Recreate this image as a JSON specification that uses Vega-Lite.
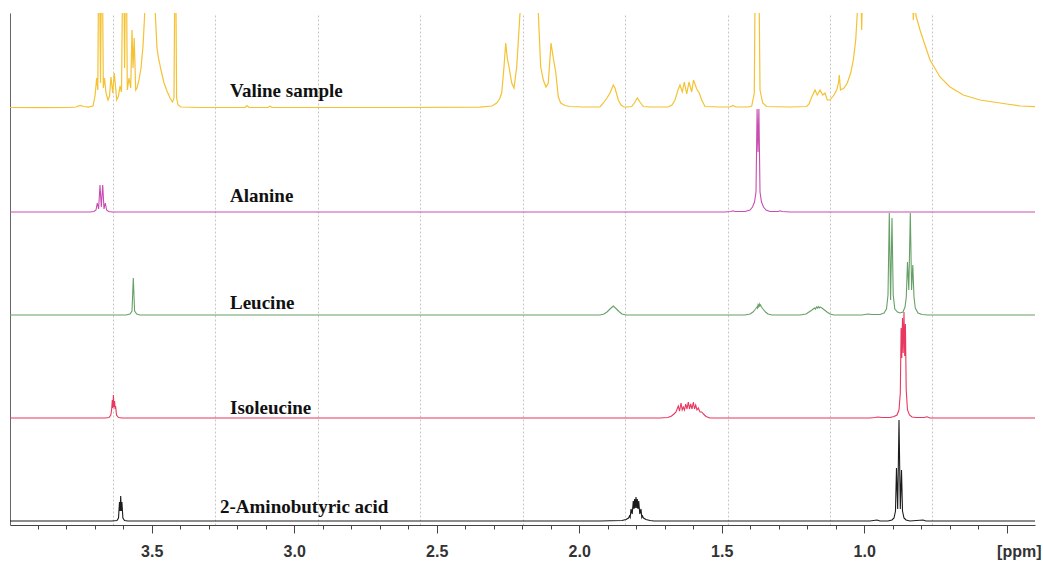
{
  "$schema": "https://vega.github.io/schema/vega-lite/v6.json",
  "width": 1025,
  "height": 512,
  "autosize": {"type": "none"},
  "padding": {"left": 10, "top": 13, "right": 8, "bottom": 37},
  "background": "white",
  "config": {"view": {"stroke": null}},
  "datasets": {
    "amino": [
      {"ppm":3.9972,"i":0},{"ppm":3.6393,"i":0},{"ppm":3.6218,"i":0.5},{"ppm":3.6165,"i":3},{"ppm":3.6130,"i":19},{"ppm":3.6109,"i":10},{"ppm":3.6088,"i":25},{"ppm":3.6067,"i":10},{"ppm":3.6046,"i":19},{"ppm":3.6011,"i":3},{"ppm":3.5954,"i":0.5},{"ppm":3.5832,"i":0},
      {"ppm":1.9270,"i":0},{"ppm":1.8498,"i":0.5},{"ppm":1.8358,"i":1.5},{"ppm":1.8270,"i":3},{"ppm":1.8235,"i":5},{"ppm":1.8211,"i":3.5},{"ppm":1.8182,"i":12},{"ppm":1.8140,"i":7},{"ppm":1.8102,"i":20},{"ppm":1.8077,"i":12},{"ppm":1.8056,"i":22},{"ppm":1.8032,"i":13},{"ppm":1.8007,"i":24},{"ppm":1.7982,"i":13},{"ppm":1.7961,"i":22},{"ppm":1.7937,"i":12},{"ppm":1.7912,"i":20},{"ppm":1.7874,"i":7},{"ppm":1.7832,"i":12},{"ppm":1.7804,"i":3.5},{"ppm":1.7779,"i":5},{"ppm":1.7744,"i":3},{"ppm":1.7656,"i":1.5},{"ppm":1.7516,"i":0.5},{"ppm":1.7375,"i":0},
      {"ppm":0.9796,"i":0},{"ppm":0.9551,"i":1},{"ppm":0.9446,"i":0},{"ppm":0.9165,"i":0},{"ppm":0.9025,"i":1},{"ppm":0.8954,"i":3},{"ppm":0.8902,"i":10},{"ppm":0.8867,"i":53},{"ppm":0.8825,"i":12},{"ppm":0.8779,"i":101},{"ppm":0.8733,"i":12},{"ppm":0.8691,"i":51},{"ppm":0.8656,"i":10},{"ppm":0.8604,"i":3},{"ppm":0.8533,"i":1},{"ppm":0.8393,"i":0},{"ppm":0.7937,"i":1},{"ppm":0.7832,"i":0},{"ppm":0.4007,"i":0}
    ],
    "iso": [
      {"ppm":3.9972,"i":0},{"ppm":3.6639,"i":0},{"ppm":3.6498,"i":0.5},{"ppm":3.6435,"i":3},{"ppm":3.6407,"i":8},{"ppm":3.6382,"i":18},{"ppm":3.6361,"i":10},{"ppm":3.6344,"i":23},{"ppm":3.6323,"i":11},{"ppm":3.6302,"i":17},{"ppm":3.6284,"i":9},{"ppm":3.6267,"i":12},{"ppm":3.6235,"i":3},{"ppm":3.6165,"i":0.5},{"ppm":3.6042,"i":0},
      {"ppm":1.7165,"i":0},{"ppm":1.6884,"i":0.5},{"ppm":1.6761,"i":2},{"ppm":1.6674,"i":4},{"ppm":1.6604,"i":6},{"ppm":1.6523,"i":12},{"ppm":1.6477,"i":7},{"ppm":1.6428,"i":15},{"ppm":1.6386,"i":8},{"ppm":1.6347,"i":11},{"ppm":1.6305,"i":8},{"ppm":1.6263,"i":14},{"ppm":1.6218,"i":9},{"ppm":1.6172,"i":16},{"ppm":1.6130,"i":9},{"ppm":1.6088,"i":14},{"ppm":1.6042,"i":9},{"ppm":1.5996,"i":16},{"ppm":1.5954,"i":9},{"ppm":1.5912,"i":13},{"ppm":1.5867,"i":8},{"ppm":1.5821,"i":10},{"ppm":1.5761,"i":6},{"ppm":1.5702,"i":6},{"ppm":1.5639,"i":4},{"ppm":1.5551,"i":1.5},{"ppm":1.5411,"i":0},
      {"ppm":0.9796,"i":0},{"ppm":0.9621,"i":0.5},{"ppm":0.9516,"i":1},{"ppm":0.9375,"i":0.5},{"ppm":0.9095,"i":0.5},{"ppm":0.8954,"i":1.5},{"ppm":0.8849,"i":3},{"ppm":0.8779,"i":8},{"ppm":0.8733,"i":25},{"ppm":0.8705,"i":90},{"ppm":0.8681,"i":60},{"ppm":0.8656,"i":100},{"ppm":0.8632,"i":65},{"ppm":0.8604,"i":106},{"ppm":0.8579,"i":62},{"ppm":0.8554,"i":94},{"ppm":0.8526,"i":28},{"ppm":0.8481,"i":8},{"ppm":0.8411,"i":3},{"ppm":0.8323,"i":1},{"ppm":0.8182,"i":0.5},{"ppm":0.7902,"i":0.5},{"ppm":0.7796,"i":1.2},{"ppm":0.7691,"i":0},{"ppm":0.4007,"i":0}
    ],
    "leu": [
      {"ppm":3.9972,"i":0},{"ppm":3.5902,"i":0},{"ppm":3.5761,"i":1},{"ppm":3.5691,"i":4},{"ppm":3.5646,"i":37},{"ppm":3.5600,"i":4},{"ppm":3.5526,"i":1},{"ppm":3.5411,"i":0},
      {"ppm":1.9270,"i":0},{"ppm":1.9130,"i":1},{"ppm":1.9025,"i":3},{"ppm":1.8919,"i":6},{"ppm":1.8804,"i":9},{"ppm":1.8691,"i":6},{"ppm":1.8586,"i":3},{"ppm":1.8498,"i":1},{"ppm":1.8358,"i":0},
      {"ppm":1.4182,"i":0},{"ppm":1.4007,"i":1},{"ppm":1.3902,"i":3},{"ppm":1.3814,"i":6},{"ppm":1.3761,"i":8},{"ppm":1.3743,"i":7},{"ppm":1.3726,"i":10},{"ppm":1.3703,"i":8.5},{"ppm":1.3681,"i":11},{"ppm":1.3660,"i":9},{"ppm":1.3639,"i":10},{"ppm":1.3604,"i":8},{"ppm":1.3551,"i":6},{"ppm":1.3463,"i":3},{"ppm":1.3375,"i":1},{"ppm":1.3235,"i":0},
      {"ppm":1.2253,"i":0},{"ppm":1.2042,"i":1},{"ppm":1.1937,"i":3},{"ppm":1.1832,"i":5},{"ppm":1.1744,"i":7},{"ppm":1.1709,"i":6},{"ppm":1.1674,"i":8},{"ppm":1.1642,"i":7},{"ppm":1.1611,"i":8.5},{"ppm":1.1581,"i":7},{"ppm":1.1551,"i":8},{"ppm":1.1481,"i":7},{"ppm":1.1393,"i":5},{"ppm":1.1305,"i":3},{"ppm":1.1200,"i":1},{"ppm":1.1060,"i":0},
      {"ppm":1.0077,"i":0},{"ppm":0.9867,"i":1},{"ppm":0.9726,"i":0.5},{"ppm":0.9446,"i":0.5},{"ppm":0.9305,"i":2},{"ppm":0.9218,"i":6},{"ppm":0.9165,"i":20},{"ppm":0.9119,"i":102},{"ppm":0.9074,"i":15},{"ppm":0.9025,"i":97},{"ppm":0.8982,"i":20},{"ppm":0.8926,"i":6},{"ppm":0.8832,"i":3},{"ppm":0.8744,"i":2},{"ppm":0.8639,"i":3},{"ppm":0.8568,"i":8},{"ppm":0.8523,"i":18},{"ppm":0.8481,"i":53},{"ppm":0.8435,"i":25},{"ppm":0.8382,"i":102},{"ppm":0.8337,"i":25},{"ppm":0.8295,"i":50},{"ppm":0.8253,"i":18},{"ppm":0.8207,"i":7},{"ppm":0.8112,"i":2},{"ppm":0.7972,"i":0.5},{"ppm":0.7761,"i":0},{"ppm":0.4007,"i":0}
    ],
    "ala": [
      {"ppm":3.9972,"i":0},{"ppm":3.7165,"i":0},{"ppm":3.7025,"i":0.5},{"ppm":3.6954,"i":2},{"ppm":3.6909,"i":9},{"ppm":3.6863,"i":3},{"ppm":3.6814,"i":27},{"ppm":3.6768,"i":5},{"ppm":3.6719,"i":27},{"ppm":3.6674,"i":3},{"ppm":3.6628,"i":9},{"ppm":3.6582,"i":2},{"ppm":3.6516,"i":0.5},{"ppm":3.6393,"i":0},
      {"ppm":1.4884,"i":0},{"ppm":1.4674,"i":0.5},{"ppm":1.4604,"i":1.2},{"ppm":1.4533,"i":0.5},{"ppm":1.4182,"i":0.5},{"ppm":1.4007,"i":2},{"ppm":1.3919,"i":5},{"ppm":1.3849,"i":10},{"ppm":1.3796,"i":20},{"ppm":1.3758,"i":103},{"ppm":1.3726,"i":60},{"ppm":1.3695,"i":103},{"ppm":1.3656,"i":20},{"ppm":1.3604,"i":10},{"ppm":1.3533,"i":5},{"ppm":1.3446,"i":2},{"ppm":1.3305,"i":0.5},{"ppm":1.3025,"i":0.5},{"ppm":1.2954,"i":1.2},{"ppm":1.2884,"i":0.5},{"ppm":1.2604,"i":0},{"ppm":0.4007,"i":0}
    ],
    "val": [
      {"ppm":3.9972,"i":0.5},{"ppm":3.8919,"i":0.3},{"ppm":3.7867,"i":0.5},{"ppm":3.7656,"i":1},{"ppm":3.7516,"i":2.5},{"ppm":3.7375,"i":1.5},{"ppm":3.7235,"i":0.8},{"ppm":3.7060,"i":2},{"ppm":3.6989,"i":12},{"ppm":3.6930,"i":30},{"ppm":3.6891,"i":18},{"ppm":3.6849,"i":200},{"ppm":3.6796,"i":25},{"ppm":3.6744,"i":200},{"ppm":3.6698,"i":20},{"ppm":3.6656,"i":30},{"ppm":3.6604,"i":15},{"ppm":3.6533,"i":8},{"ppm":3.6481,"i":12},{"ppm":3.6428,"i":31},{"ppm":3.6368,"i":15},{"ppm":3.6312,"i":35},{"ppm":3.6228,"i":8},{"ppm":3.6165,"i":12},{"ppm":3.6112,"i":22},{"ppm":3.6060,"i":16},{"ppm":3.5996,"i":200},{"ppm":3.5951,"i":40},{"ppm":3.5902,"i":200},{"ppm":3.5856,"i":18},{"ppm":3.5796,"i":30},{"ppm":3.5737,"i":20},{"ppm":3.5691,"i":78},{"ppm":3.5656,"i":40},{"ppm":3.5614,"i":70},{"ppm":3.5561,"i":18},{"ppm":3.5516,"i":20},{"ppm":3.5446,"i":28},{"ppm":3.5375,"i":40},{"ppm":3.5305,"i":62},{"ppm":3.5253,"i":90},{"ppm":3.5200,"i":140},{"ppm":3.5060,"i":400},{"ppm":3.4919,"i":140},{"ppm":3.4867,"i":90},{"ppm":3.4814,"i":60},{"ppm":3.4761,"i":50},{"ppm":3.4674,"i":38},{"ppm":3.4568,"i":25},{"ppm":3.4463,"i":17},{"ppm":3.4358,"i":10},{"ppm":3.4270,"i":6},{"ppm":3.4218,"i":10},{"ppm":3.4172,"i":200},{"ppm":3.4126,"i":10},{"ppm":3.4077,"i":3},{"ppm":3.3972,"i":1},{"ppm":3.3305,"i":0.5},{"ppm":3.1726,"i":0.5},{"ppm":3.1656,"i":2.5},{"ppm":3.1586,"i":0.5},{"ppm":3.0919,"i":0.5},{"ppm":3.0849,"i":1.8},{"ppm":3.0779,"i":0.5},{"ppm":2.9796,"i":0.5},{"ppm":2.6288,"i":0.5},{"ppm":2.3481,"i":0.8},{"ppm":2.3060,"i":2},{"ppm":2.2895,"i":5},{"ppm":2.2796,"i":9},{"ppm":2.2719,"i":15},{"ppm":2.2639,"i":41},{"ppm":2.2579,"i":65},{"ppm":2.2523,"i":50},{"ppm":2.2463,"i":41},{"ppm":2.2368,"i":25},{"ppm":2.2288,"i":20},{"ppm":2.2193,"i":41},{"ppm":2.2130,"i":70},{"ppm":2.2077,"i":95},{"ppm":2.2007,"i":140},{"ppm":2.1761,"i":400},{"ppm":2.1516,"i":140},{"ppm":2.1435,"i":95},{"ppm":2.1351,"i":41},{"ppm":2.1260,"i":28},{"ppm":2.1165,"i":21},{"ppm":2.1084,"i":25},{"ppm":2.0989,"i":65},{"ppm":2.0909,"i":50},{"ppm":2.0825,"i":36},{"ppm":2.0733,"i":11},{"ppm":2.0649,"i":5},{"ppm":2.0498,"i":2.5},{"ppm":2.0323,"i":1.5},{"ppm":1.9867,"i":1},{"ppm":1.9270,"i":1},{"ppm":1.9154,"i":5},{"ppm":1.9025,"i":10},{"ppm":1.8919,"i":15},{"ppm":1.8804,"i":23},{"ppm":1.8744,"i":20},{"ppm":1.8628,"i":8},{"ppm":1.8533,"i":3},{"ppm":1.8428,"i":1},{"ppm":1.8288,"i":1},{"ppm":1.8158,"i":1.5},{"ppm":1.8042,"i":6},{"ppm":1.7961,"i":10},{"ppm":1.7867,"i":6},{"ppm":1.7751,"i":1.5},{"ppm":1.7516,"i":1},{"ppm":1.6884,"i":1},{"ppm":1.6744,"i":3},{"ppm":1.6639,"i":8},{"ppm":1.6533,"i":18},{"ppm":1.6463,"i":23},{"ppm":1.6382,"i":16},{"ppm":1.6312,"i":26},{"ppm":1.6228,"i":14},{"ppm":1.6147,"i":26},{"ppm":1.6053,"i":16},{"ppm":1.5989,"i":28},{"ppm":1.5877,"i":19},{"ppm":1.5786,"i":15},{"ppm":1.5702,"i":8},{"ppm":1.5586,"i":1.5},{"ppm":1.5060,"i":1},{"ppm":1.4709,"i":1},{"ppm":1.4604,"i":2.5},{"ppm":1.4498,"i":1},{"ppm":1.4077,"i":1},{"ppm":1.3947,"i":2},{"ppm":1.3856,"i":15},{"ppm":1.3807,"i":200},{"ppm":1.3761,"i":130},{"ppm":1.3716,"i":200},{"ppm":1.3656,"i":18},{"ppm":1.3561,"i":5},{"ppm":1.3421,"i":1.5},{"ppm":1.2604,"i":1},{"ppm":1.2018,"i":1.5},{"ppm":1.1937,"i":4},{"ppm":1.1842,"i":11},{"ppm":1.1726,"i":18},{"ppm":1.1646,"i":13},{"ppm":1.1551,"i":18},{"ppm":1.1456,"i":13},{"ppm":1.1375,"i":15},{"ppm":1.1295,"i":8},{"ppm":1.1200,"i":8},{"ppm":1.1060,"i":13},{"ppm":1.0965,"i":18},{"ppm":1.0902,"i":25},{"ppm":1.0874,"i":33},{"ppm":1.0832,"i":18},{"ppm":1.0709,"i":20},{"ppm":1.0593,"i":25},{"ppm":1.0474,"i":35},{"ppm":1.0382,"i":48},{"ppm":1.0298,"i":68},{"ppm":1.0242,"i":95},{"ppm":1.0182,"i":200},{"ppm":1.0088,"i":78},{"ppm":1.0007,"i":200},{"ppm":0.9446,"i":500},{"ppm":0.8744,"i":500},{"ppm":0.8358,"i":200},{"ppm":0.8277,"i":88},{"ppm":0.8235,"i":110},{"ppm":0.8182,"i":92},{"ppm":0.8042,"i":78},{"ppm":0.7926,"i":68},{"ppm":0.7691,"i":48},{"ppm":0.7340,"i":31},{"ppm":0.6989,"i":21},{"ppm":0.6523,"i":13},{"ppm":0.5937,"i":8},{"ppm":0.5000,"i":4},{"ppm":0.4533,"i":2},{"ppm":0.4007,"i":1.3}
    ]
  },
  "layer": [
    {
      "data": {"name": "amino"},
      "mark": {"type": "line", "color": "#1c1c1c", "strokeWidth": 1.1, "clip": true},
      "encoding": {
        "x": {"field": "ppm", "type": "quantitative",
          "scale": {"domain": [0.4007, 3.9972], "reverse": true, "nice": false, "zero": false},
          "axis": {"orient": "bottom", "values": [3.5, 3.0, 2.5, 2.0, 1.5, 1.0, 0.5], "format": ".1f",
            "labelExpr": "datum.value < 0.7 ? '' : datum.label",
            "tickSize": 8, "tickColor": "#444", "domain": true, "domainColor": "#444", "domainWidth": 1,
            "grid": false, "labelFont": "Liberation Sans", "labelFontWeight": "bold", "labelFontSize": 16,
            "labelColor": "#333", "labelPadding": 10, "labelFlush": false, "labelOverlap": false,
            "title": "[ppm]", "titleFont": "Liberation Sans", "titleFontWeight": "bold", "titleFontSize": 16,
            "titleColor": "#333", "titleX": 1031, "titleY": 18, "titleAlign": "right", "titleBaseline": "top"}},
        "y": {"field": "i", "type": "quantitative",
          "scale": {"domain": [-4, 508], "nice": false, "zero": false},
          "axis": {"orient": "left", "domain": true, "domainColor": "#666", "ticks": false, "labels": false, "grid": false, "title": null}}
      }
    },
    {
      "data": {"name": "iso"},
      "mark": {"type": "line", "color": "#E8385F", "strokeWidth": 1.1, "clip": true},
      "encoding": {
        "x": {"field": "ppm", "type": "quantitative",
          "axis": {"orient": "bottom", "values": [3.9, 3.8, 3.7, 3.6, 3.4, 3.3, 3.2, 3.1, 2.9, 2.8, 2.7, 2.6, 2.4, 2.3, 2.2, 2.1, 1.9, 1.8, 1.7, 1.6, 1.4, 1.3, 1.2, 1.1, 0.9, 0.8, 0.7, 0.6],
            "tickSize": 4, "tickColor": "#444", "domain": false, "labels": false, "grid": false, "title": null}},
        "y": {"field": "i", "type": "quantitative", "scale": {"domain": [-107, 405], "nice": false, "zero": false}, "axis": null}
      }
    },
    {
      "data": {"name": "leu"},
      "mark": {"type": "line", "color": "#67A067", "strokeWidth": 1.1, "clip": true},
      "encoding": {
        "x": {"field": "ppm", "type": "quantitative",
          "axis": {"orient": "top", "values": [3.6375, 3.2779, 2.9182, 2.5586, 2.1989, 1.8393, 1.4796, 1.12, 0.7604],
            "grid": true, "gridColor": "#c6c6c6", "gridDash": [2, 2], "gridWidth": 1,
            "domain": false, "ticks": false, "labels": false, "title": null}},
        "y": {"field": "i", "type": "quantitative", "scale": {"domain": [-210, 302], "nice": false, "zero": false}, "axis": null}
      }
    },
    {
      "data": {"name": "ala"},
      "mark": {"type": "line", "color": "#C94DB0", "strokeWidth": 1.1, "clip": true},
      "encoding": {
        "x": {"field": "ppm", "type": "quantitative", "axis": null},
        "y": {"field": "i", "type": "quantitative", "scale": {"domain": [-313, 199], "nice": false, "zero": false}, "axis": null}
      }
    },
    {
      "data": {"name": "val"},
      "mark": {"type": "line", "color": "#F4C232", "strokeWidth": 1.2, "clip": true},
      "encoding": {
        "x": {"field": "ppm", "type": "quantitative", "axis": null},
        "y": {"field": "i", "type": "quantitative", "scale": {"domain": [-417, 95], "nice": false, "zero": false}, "axis": null}
      }
    },
    {
      "data": {"values": [{"name": "2-Aminobutyric acid", "ppm": 3.2604, "i": 8}]},
      "mark": {"type": "text", "font": "Liberation Serif", "fontWeight": "bold", "fontSize": 19, "color": "#111", "align": "left", "baseline": "alphabetic"},
      "encoding": {
        "x": {"field": "ppm", "type": "quantitative", "axis": null},
        "y": {"field": "i", "type": "quantitative", "scale": {"domain": [-4, 508], "nice": false, "zero": false}, "axis": null},
        "text": {"field": "name"}
      }
    },
    {
      "data": {"values": [{"name": "Isoleucine", "ppm": 3.2253, "i": 4.5}]},
      "mark": {"type": "text", "font": "Liberation Serif", "fontWeight": "bold", "fontSize": 19, "color": "#111", "align": "left", "baseline": "alphabetic"},
      "encoding": {
        "x": {"field": "ppm", "type": "quantitative", "axis": null},
        "y": {"field": "i", "type": "quantitative", "scale": {"domain": [-107, 405], "nice": false, "zero": false}, "axis": null},
        "text": {"field": "name"}
      }
    },
    {
      "data": {"values": [{"name": "Leucine", "ppm": 3.2253, "i": 6.5}]},
      "mark": {"type": "text", "font": "Liberation Serif", "fontWeight": "bold", "fontSize": 19, "color": "#111", "align": "left", "baseline": "alphabetic"},
      "encoding": {
        "x": {"field": "ppm", "type": "quantitative", "axis": null},
        "y": {"field": "i", "type": "quantitative", "scale": {"domain": [-210, 302], "nice": false, "zero": false}, "axis": null},
        "text": {"field": "name"}
      }
    },
    {
      "data": {"values": [{"name": "Alanine", "ppm": 3.2253, "i": 10}]},
      "mark": {"type": "text", "font": "Liberation Serif", "fontWeight": "bold", "fontSize": 19, "color": "#111", "align": "left", "baseline": "alphabetic"},
      "encoding": {
        "x": {"field": "ppm", "type": "quantitative", "axis": null},
        "y": {"field": "i", "type": "quantitative", "scale": {"domain": [-313, 199], "nice": false, "zero": false}, "axis": null},
        "text": {"field": "name"}
      }
    },
    {
      "data": {"values": [{"name": "Valine sample", "ppm": 3.2253, "i": 11.5}]},
      "mark": {"type": "text", "font": "Liberation Serif", "fontWeight": "bold", "fontSize": 19, "color": "#111", "align": "left", "baseline": "alphabetic"},
      "encoding": {
        "x": {"field": "ppm", "type": "quantitative", "axis": null},
        "y": {"field": "i", "type": "quantitative", "scale": {"domain": [-417, 95], "nice": false, "zero": false}, "axis": null},
        "text": {"field": "name"}
      }
    }
  ],
  "resolve": {"scale": {"y": "independent"}, "axis": {"x": "independent", "y": "independent"}}
}
